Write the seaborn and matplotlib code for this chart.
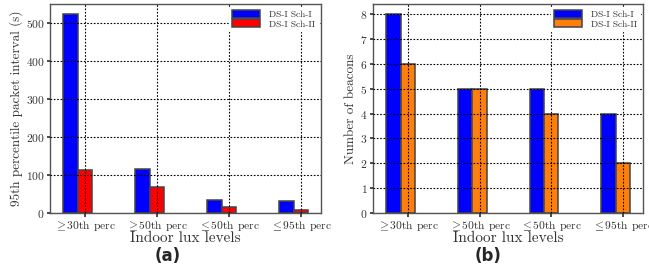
import matplotlib
matplotlib.use("Agg")
import matplotlib.pyplot as plt
import seaborn as sns
import pandas as pd

categories = [r"$\geq$30th perc", r"$\geq$50th perc", r"$\leq$50th perc", r"$\leq$95th perc"]
series = ["DS-I Sch-I", "DS-I Sch-II"]
interval_sch1 = [525, 117, 35, 31]
interval_sch2 = [113, 69, 16, 9]
beacons_sch1 = [8, 5, 5, 4]
beacons_sch2 = [6, 5, 4, 2]

sns.set_theme(style="white")
plt.rcParams["font.family"] = ["cmr10", "DejaVu Serif"]
plt.rcParams["mathtext.fontset"] = "cm"
plt.rcParams["axes.formatter.use_mathtext"] = True
plt.rcParams["axes.unicode_minus"] = False

fig = plt.figure(figsize=(6.49, 2.68), dpi=100)
ax1 = fig.add_axes([0.077, 0.205, 0.418, 0.780])
ax2 = fig.add_axes([0.575, 0.205, 0.416, 0.780])

def make_df(a, b):
    return pd.DataFrame({
        "cat": categories * 2,
        "val": list(a) + list(b),
        "series": [series[0]] * len(a) + [series[1]] * len(b),
    })

def draw(ax, df, colors, ylabel, ymax):
    sns.barplot(data=df, x="cat", y="val", hue="series", order=categories,
                hue_order=series, palette=colors, width=0.4, dodge=True,
                edgecolor="#444444", linewidth=1.1, ax=ax, saturation=1)
    ax.set_xticks([i + 0.1 for i in range(len(categories))])
    ax.set_xticklabels(categories, fontsize=8.3, color="#333333", family=["cmr10", "DejaVu Serif"])
    ax.set_xlim(-0.386, 3.385)
    ax.set_ylim(0, ymax * 1.05)
    ax.tick_params(axis="y", labelsize=8.3, labelcolor="#333333", length=2, pad=2,
                   direction="out", left=True, color="#333333")
    ax.tick_params(axis="x", length=3, pad=1, direction="out", bottom=True, color="#333333")
    ax.set_axisbelow(False)
    ax.grid(True, linestyle=(0, (1.5, 1.5)), color="black", linewidth=0.8)
    ax.set_xlabel("Indoor lux levels", fontsize=11, color="#333333", labelpad=-1,
                  family=["cmr10", "DejaVu Serif"])
    ax.set_ylabel(ylabel, fontsize=9.5, color="#333333", labelpad=2,
                  family=["cmr10", "DejaVu Serif"])
    for s in ax.spines.values():
        s.set_color("#555555")
        s.set_linewidth(1.0)
    leg = ax.legend(loc="upper right", fontsize=6.8, frameon=True, framealpha=1,
                    edgecolor="white", fancybox=False, handlelength=3.0,
                    handleheight=0.9, labelspacing=0.0, borderpad=0.3,
                    handletextpad=0.9, borderaxespad=0.35)
    for t in leg.get_texts():
        t.set_color("#333333")

draw(ax1, make_df(interval_sch1, interval_sch2), ["#0000ff", "#ff0000"],
     "95th percentile packet interval (s)", max(interval_sch1))
ax1.set_yticks([0, 100, 200, 300, 400, 500])
draw(ax2, make_df(beacons_sch1, beacons_sch2), ["#0000ff", "#ff7f0e"],
     "Number of beacons", max(beacons_sch1))
ax2.set_yticks(range(0, 9))

fig.text(0.259, 0.045, "(a)", fontsize=12, fontweight="bold", ha="center", va="center", family="DejaVu Sans")
fig.text(0.752, 0.045, "(b)", fontsize=12, fontweight="bold", ha="center", va="center", family="DejaVu Sans")

fig.savefig("out.png", dpi=100)
